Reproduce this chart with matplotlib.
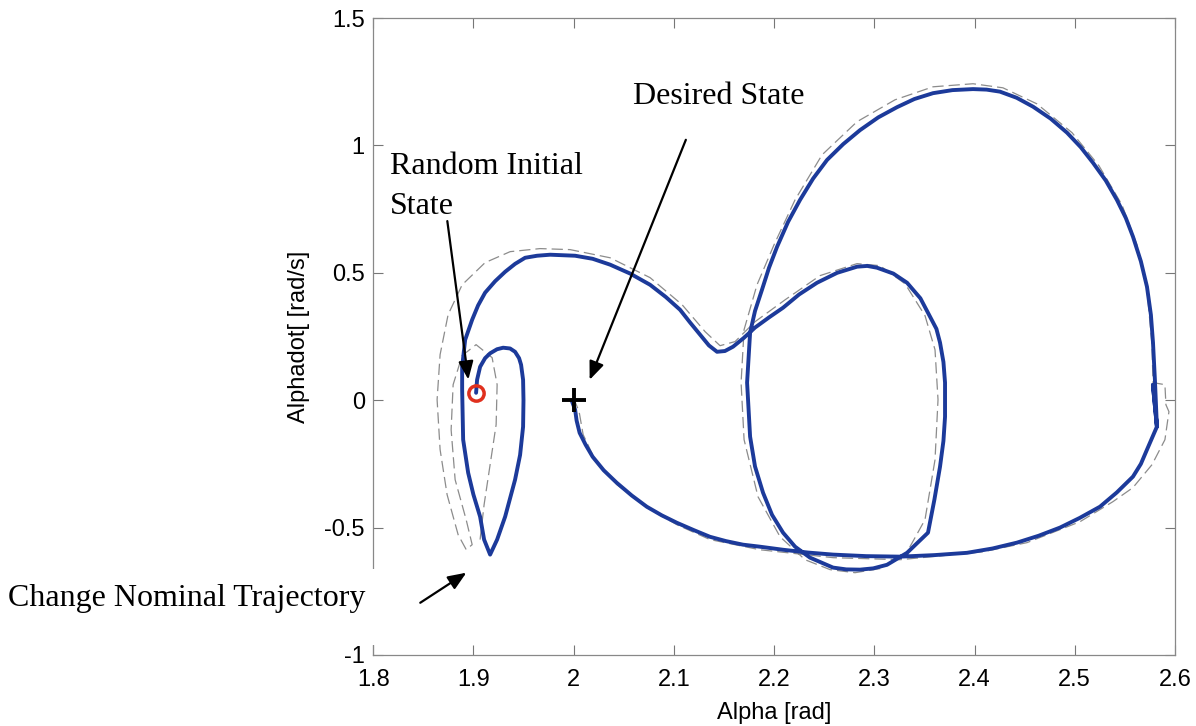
import matplotlib
matplotlib.use('Agg')
import matplotlib.pyplot as plt
from matplotlib.patches import Rectangle

# actual (closed loop) trajectory, alpha [rad] vs alphadot [rad/s]
alpha = [1.9027, 1.9037, 1.9067, 1.9117, 1.9167, 1.9236, 1.9297, 1.9366, 1.9416, 1.9456,
         1.9476, 1.9496, 1.9500, 1.9496, 1.9466, 1.9416, 1.9317, 1.9237, 1.9167, 1.9107,
         1.9067, 1.9000, 1.8948, 1.8898, 1.8888, 1.8888, 1.8918, 1.8988, 1.9047, 1.9117,
         1.9217, 1.9317, 1.9416, 1.9516, 1.9636, 1.9766, 2.0015, 2.0190, 2.0364, 2.0564,
         2.0763, 2.0920, 2.1062, 2.1162, 2.1262, 2.1350, 2.1431, 2.1510, 2.1591, 2.1700,
         2.1810, 2.1950, 2.2090, 2.2250, 2.2429, 2.2630, 2.2828, 2.2930, 2.3027, 2.3190,
         2.3327, 2.3460, 2.3556, 2.3620, 2.3656, 2.3690, 2.3706, 2.3706, 2.3690, 2.3656,
         2.3600, 2.3536, 2.3327, 2.3127, 2.2990, 2.2858, 2.2720, 2.2589, 2.2359, 2.2210,
         2.2090, 2.1980, 2.1890, 2.1810, 2.1761, 2.1731, 2.1761, 2.1810, 2.1880, 2.1950,
         2.2030, 2.2140, 2.2259, 2.2390, 2.2529, 2.2690, 2.2858, 2.3040, 2.3227, 2.3400,
         2.3586, 2.3780, 2.3985, 2.4120, 2.4254, 2.4420, 2.4584, 2.4760, 2.4923, 2.5060,
         2.5182, 2.5310, 2.5421, 2.5510, 2.5581, 2.5660, 2.5721, 2.5760, 2.5781, 2.5800,
         2.5820, 2.5780, 2.5820, 2.5770, 2.5721, 2.5660, 2.5581, 2.5420, 2.5252, 2.5050,
         2.4853, 2.4640, 2.4424, 2.4180, 2.3925, 2.3600, 2.3257, 2.2920, 2.2589, 2.2340,
         2.2090, 2.1860, 2.1690, 2.1520, 2.1360, 2.1200, 2.1030, 2.0880, 2.0730, 2.0580,
         2.0430, 2.0300, 2.0190, 2.0120, 2.0060, 2.0030, 2.0015, 1.9985]
alphadot = [0.029, 0.080, 0.131, 0.165, 0.184, 0.200, 0.206, 0.203, 0.190, 0.165,
            0.139, 0.080, 0.000, -0.104, -0.215, -0.312, -0.457, -0.547, -0.606, -0.547,
            -0.457, -0.370, -0.285, -0.155, 0.041, 0.131, 0.237, 0.316, 0.372, 0.422,
            0.467, 0.504, 0.535, 0.559, 0.567, 0.571, 0.567, 0.555, 0.532, 0.497,
            0.453, 0.405, 0.355, 0.305, 0.257, 0.215, 0.190, 0.193, 0.210, 0.245,
            0.285, 0.325, 0.363, 0.415, 0.461, 0.500, 0.524, 0.527, 0.520, 0.497,
            0.461, 0.400, 0.328, 0.280, 0.226, 0.150, 0.069, -0.065, -0.160, -0.261,
            -0.390, -0.520, -0.599, -0.646, -0.660, -0.665, -0.664, -0.657, -0.618, -0.575,
            -0.520, -0.450, -0.363, -0.260, -0.143, 0.069, 0.265, 0.350, 0.434, 0.520,
            0.602, 0.700, 0.786, 0.870, 0.943, 1.005, 1.060, 1.110, 1.150, 1.182,
            1.205, 1.217, 1.221, 1.219, 1.211, 1.187, 1.152, 1.105, 1.050, 0.993,
            0.932, 0.862, 0.786, 0.715, 0.642, 0.545, 0.445, 0.335, 0.226, 0.080,
            -0.104, 0.060, -0.104, -0.150, -0.194, -0.250, -0.300, -0.362, -0.418, -0.462,
            -0.500, -0.532, -0.559, -0.582, -0.599, -0.608, -0.614, -0.612, -0.606, -0.598,
            -0.587, -0.575, -0.567, -0.553, -0.536, -0.510, -0.481, -0.452, -0.418, -0.374,
            -0.324, -0.275, -0.222, -0.175, -0.128, -0.080, -0.037, -0.006]

# nominal trajectory (dashed)
nom_alpha = [1.9067, 1.9107, 1.9167, 1.9227, 1.9237, 1.9187, 1.9027, 1.8888, 1.8798, 1.8778,
             1.8818, 1.8928, 1.8988, 1.8928, 1.8848, 1.8738, 1.8668, 1.8638, 1.8668, 1.8748,
             1.8888, 1.9117, 1.9367, 1.9666, 1.9965, 2.0364, 2.0763, 2.1082, 2.1312, 2.1461,
             2.1611, 2.1810, 2.2110, 2.2459, 2.2828, 2.3057, 2.3307, 2.3506, 2.3606, 2.3636,
             2.3606, 2.3506, 2.3307, 2.3057, 2.2808, 2.2559, 2.2309, 2.2060, 2.1840, 2.1701,
             2.1671, 2.1701, 2.1830, 2.2000, 2.2209, 2.2479, 2.2828, 2.3207, 2.3586, 2.3985,
             2.4284, 2.4623, 2.4973, 2.5242, 2.5471, 2.5621, 2.5721, 2.5771, 2.5781, 2.5900,
             2.5910, 2.5940, 2.5900, 2.5771, 2.5581, 2.5382, 2.5052, 2.4524, 2.4085, 2.3257,
             2.2589, 2.1860, 2.1361, 2.1032, 2.0733, 2.0434, 2.0214, 2.0095, 2.0055, 2.0015]
nom_alphadot = [-0.547, -0.410, -0.253, -0.096, 0.061, 0.167, 0.218, 0.175, 0.061, -0.116,
                -0.312, -0.469, -0.567, -0.586, -0.528, -0.371, -0.194, 0.002, 0.179, 0.336,
                0.453, 0.540, 0.583, 0.595, 0.591, 0.559, 0.481, 0.375, 0.269, 0.214,
                0.230, 0.308, 0.394, 0.489, 0.536, 0.528, 0.457, 0.332, 0.198, 0.002,
                -0.234, -0.469, -0.610, -0.661, -0.677, -0.665, -0.626, -0.536, -0.379, -0.155,
                0.069, 0.277, 0.453, 0.610, 0.786, 0.963, 1.093, 1.179, 1.230, 1.242,
                1.226, 1.163, 1.050, 0.920, 0.767, 0.610, 0.434, 0.218, 0.069, 0.061,
                -0.018, -0.045, -0.155, -0.253, -0.343, -0.398, -0.477, -0.559, -0.595, -0.626,
                -0.618, -0.587, -0.547, -0.489, -0.422, -0.332, -0.234, -0.135, -0.045, -0.006]

initial_state = (1.903, 0.03)
desired_state = (2.0, 0.0)

fig = plt.figure(figsize=(11.96, 7.26), dpi=100)
ax = fig.add_axes([0.312, 0.0978, 0.6704, 0.8774])

ax.plot(nom_alpha, nom_alphadot, color='#8c8c8c', lw=0.9, ls=(0, (9, 4)), zorder=2)
ax.plot(alpha, alphadot, color='#1c3a9a', lw=2.8, zorder=3,
        solid_joinstyle='round', solid_capstyle='round')
ax.plot(*initial_state, marker='o', ms=11, mfc='none', mec='#e0301e', mew=2.5, zorder=4)
ax.plot(*desired_state, marker='+', ms=17, color='black', mew=2.8, zorder=4)

ax.set_xlim(1.8, 2.6)
ax.set_ylim(-1, 1.5)
ax.set_xticks([1.8, 1.9, 2.0, 2.1, 2.2, 2.3, 2.4, 2.5, 2.6])
ax.set_xticklabels(['1.8', '1.9', '2', '2.1', '2.2', '2.3', '2.4', '2.5', '2.6'])
ax.set_yticks([-1, -0.5, 0, 0.5, 1, 1.5])
ax.set_yticklabels(['-1', '-0.5', '0', '0.5', '1', '1.5'])
ax.tick_params(direction='in', top=True, right=True, length=7, width=0.8,
               color='#777777', labelsize=17)
ax.tick_params(axis='x', pad=10)
ax.tick_params(axis='y', pad=6)
for lab in ax.get_xticklabels() + ax.get_yticklabels():
    lab.set_family('Liberation Sans')
for s in ax.spines.values():
    s.set_color('#888888')
    s.set_linewidth(0.9)

ax.set_xlabel('Alpha [rad]', fontsize=17, family='Liberation Sans', labelpad=8)
ax.set_ylabel('Alphadot[ [rad/s]', fontsize=17, family='Liberation Sans', labelpad=10)

serif = 'Liberation Serif'
arrow = dict(arrowstyle='-|>,head_length=1.1,head_width=0.45', color='black', lw=1.6,
             shrinkA=0, shrinkB=0)
ax.text(1.817, 0.838, 'Random Initial\nState', fontsize=23, family=serif,
        va='center', ha='left', linespacing=1.5)
ax.annotate('', xy=(1.895, 0.081), xytext=(1.874, 0.703), arrowprops=arrow)
ax.text(2.059, 1.191, 'Desired State', fontsize=23, family=serif, va='center', ha='left')
ax.annotate('', xy=(2.016, 0.080), xytext=(2.112, 1.022), arrowprops=arrow)
ax.annotate('', xy=(1.893, -0.677), xytext=(1.847, -0.795), arrowprops=arrow)

# white gap over the left spine behind the text
fig.patches.append(Rectangle((0.302, 0.112), 0.015, 0.104, transform=fig.transFigure,
                             facecolor='white', edgecolor='none', zorder=5))
fig.text(0.0067, 0.176, 'Change Nominal Trajectory', fontsize=23, family=serif,
         va='center', ha='left', zorder=6)

fig.savefig('out.png', dpi=100)
